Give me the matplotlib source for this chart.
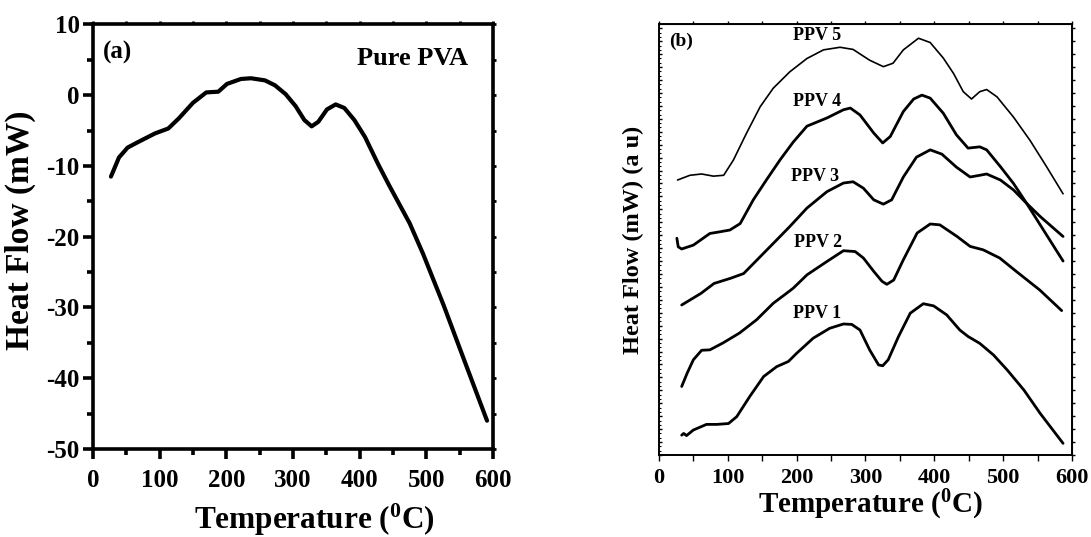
import matplotlib
matplotlib.use('Agg')
import matplotlib.pyplot as plt
from matplotlib.ticker import MultipleLocator

plt.rcParams['font.family'] = ['Liberation Serif', 'DejaVu Serif']
plt.rcParams['font.weight'] = 'bold'
plt.rcParams['axes.unicode_minus'] = False
plt.rcParams['mathtext.fontset'] = 'custom'
plt.rcParams['mathtext.rm'] = 'Liberation Serif:bold'
plt.rcParams['mathtext.bf'] = 'Liberation Serif:bold'
plt.rcParams['mathtext.default'] = 'rm'

# (a) pure PVA, heat flow in mW
pva_t = [27, 39, 52, 67, 93, 113, 129, 150, 170, 188, 201, 222, 237, 258, 273, 289,
         304, 317, 328, 338, 351, 364, 377, 392, 408, 428, 444, 475, 495, 526, 557, 591]
pva_hf = [-11.5, -8.8, -7.4, -6.65, -5.4, -4.7, -3.25, -1.07, 0.4, 0.5, 1.6, 2.3, 2.4, 2.1, 1.4, 0.15,
          -1.55, -3.5, -4.4, -3.75, -2.0, -1.3, -1.8, -3.5, -5.9, -9.8, -12.7, -18.1, -22.4, -29.7, -37.5, -46.0]

# (b) PPV samples, arbitrary units (0-100 across the axes)
t1 = [33, 36, 40, 50, 69, 84, 101, 113, 132, 152, 171, 188, 200, 224, 248, 268, 280, 292, 306, 319,
      325, 333, 348, 365, 384, 399, 418, 437, 449, 466, 486, 506, 530, 554, 587]
h1 = [4.6, 5.0, 4.5, 5.8, 7.1, 7.1, 7.3, 8.9, 13.6, 18.2, 20.5, 21.7, 23.6, 27.1, 29.4, 30.4, 30.3, 29.0, 24.4, 20.9,
      20.7, 22.1, 27.5, 32.9, 35.1, 34.6, 32.5, 29.0, 27.5, 25.9, 23.2, 19.7, 15.1, 9.6, 2.7]

t2 = [33, 41, 50, 62, 74, 93, 117, 142, 166, 186, 195, 215, 244, 268, 285, 297, 312, 324, 331, 341,
      355, 375, 394, 408, 433, 452, 471, 495, 519, 553, 585]
h2 = [15.9, 19.0, 22.1, 24.3, 24.4, 26.0, 28.3, 31.4, 35.2, 37.6, 38.7, 41.8, 44.9, 47.4, 47.2, 45.7, 42.6, 40.3, 39.6, 40.6,
      45.3, 51.5, 53.6, 53.4, 50.7, 48.4, 47.6, 45.7, 42.6, 38.3, 33.5]

t3 = [33, 61, 80, 104, 123, 147, 171, 190, 215, 244, 268, 282, 297, 312, 326, 338, 355, 374, 394, 411,
      432, 452, 466, 476, 496, 515, 534, 554, 587]
h3 = [34.8, 37.5, 39.8, 41.0, 42.1, 46.0, 49.9, 53.0, 57.3, 61.1, 63.1, 63.4, 61.9, 59.2, 58.2, 59.2, 64.5, 69.1, 70.8, 69.8,
      66.8, 64.5, 64.9, 65.2, 63.8, 61.5, 58.4, 55.3, 50.7]

t4 = [26, 28, 33, 50, 74, 89, 103, 118, 137, 156, 176, 195, 215, 244, 268, 278, 292, 312, 325, 336,
      355, 370, 382, 394, 413, 432, 449, 466, 476, 496, 515, 534, 587]
h4 = [50.3, 48.3, 47.8, 48.7, 51.4, 51.8, 52.2, 53.7, 59.2, 63.8, 68.5, 72.6, 76.3, 78.2, 80.1, 80.5, 78.9, 74.7, 72.4, 73.9,
      79.7, 82.6, 83.5, 82.8, 79.3, 74.3, 71.2, 71.5, 70.8, 66.9, 63.0, 58.4, 45.0]

t5 = [27, 45, 62, 79, 94, 108, 127, 147, 166, 190, 215, 239, 263, 282, 306, 326, 340, 355, 377, 394,
      413, 428, 442, 454, 466, 476, 491, 515, 539, 563, 587]
h5 = [63.8, 64.9, 65.2, 64.7, 64.9, 68.4, 74.6, 80.8, 85.1, 88.9, 92.0, 94.0, 94.6, 94.1, 91.6, 90.1, 90.9, 94.0, 96.7, 95.7,
      92.1, 88.5, 84.3, 82.6, 84.3, 84.8, 83.1, 78.4, 73.0, 66.9, 60.6]

ppv_names = ['PPV 1', 'PPV 2', 'PPV 3', 'PPV 4', 'PPV 5']
label_x = [229, 231, 227, 230, 230]
label_y = [32.9, 49.3, 64.6, 82.0, 97.4]

fig = plt.figure(figsize=(10.91, 5.37), dpi=100)

# ---- panel (a)
ax1 = fig.add_axes([0.0852, 0.1639, 0.3667, 0.7905])
ax1.plot(pva_t, pva_hf, color='black', lw=3.0, solid_capstyle='round', solid_joinstyle='round')
ax1.set_xlim(0, 600)
ax1.set_ylim(-50, 10)
ax1.xaxis.set_major_locator(MultipleLocator(100))
ax1.xaxis.set_minor_locator(MultipleLocator(50))
ax1.yaxis.set_major_locator(MultipleLocator(10))
ax1.yaxis.set_minor_locator(MultipleLocator(5))
for s in ax1.spines.values():
    s.set_linewidth(2.6)
ax1.tick_params(which='major', direction='out', length=7.5, width=2.6, labelsize=18)
ax1.tick_params(which='minor', direction='out', length=4, width=2.6)
ax1.tick_params(axis='x', which='major', pad=7)
ax1.tick_params(axis='y', which='major', pad=2)
for lab in ax1.get_xticklabels() + ax1.get_yticklabels():
    lab.set_fontweight('bold')
top1 = ax1.secondary_xaxis('top')
top1.xaxis.set_major_locator(MultipleLocator(50))
top1.tick_params(direction='out', length=2.5, width=2, labeltop=False)
right1 = ax1.secondary_yaxis('right')
right1.yaxis.set_major_locator(MultipleLocator(5))
right1.tick_params(direction='out', length=2.5, width=2, labelright=False)

ax1.set_xlabel('Temperature ($^0$C)', fontsize=22.5, fontweight='bold')
ax1.xaxis.set_label_coords(0.554, -0.125)
ax1.set_ylabel('Heat Flow (mW)', fontsize=24, fontweight='bold')
ax1.yaxis.set_label_coords(-0.142, 0.516)
ax1.text(15.5, 6.0, '(a)', fontsize=18, fontweight='bold', ha='left', va='center')
ax1.text(562, 5.2, 'Pure PVA', fontsize=19, fontweight='bold', ha='right', va='center')

# ---- panel (b)
ax2 = fig.add_axes([0.6040, 0.1527, 0.3786, 0.8026])
series = [(t1, h1, 2.0), (t2, h2, 2.0), (t3, h3, 2.0), (t4, h4, 2.0), (t5, h5, 1.2)]
for t, h, w in series:
    ax2.plot(t, h, color='black', lw=w, solid_capstyle='round', solid_joinstyle='round')
for name, x, y in zip(ppv_names, label_x, label_y):
    ax2.text(x, y, name, fontsize=13, fontweight='bold', ha='center', va='center')
ax2.text(15, 95.9, '(b)', fontsize=14, fontweight='bold', ha='left', va='center')

ax2.set_xlim(0, 600)
ax2.set_ylim(0, 100)
ax2.xaxis.set_major_locator(MultipleLocator(100))
ax2.xaxis.set_minor_locator(MultipleLocator(50))
ax2.yaxis.set_major_locator(MultipleLocator(3))
ax2.yaxis.set_minor_locator(MultipleLocator(1))
for s in ax2.spines.values():
    s.set_linewidth(1.4)
ax2.tick_params(axis='x', which='both', direction='out', length=4, width=1, labelsize=16, pad=5)
ax2.tick_params(axis='y', which='major', direction='in', length=2.5, width=1, labelleft=False)
ax2.tick_params(axis='y', which='minor', direction='in', length=1.5, width=0.8)
for lab in ax2.get_xticklabels():
    lab.set_fontweight('bold')
top2 = ax2.secondary_xaxis('top')
top2.xaxis.set_major_locator(MultipleLocator(50))
top2.tick_params(direction='out', length=2, width=1, labeltop=False)
right2 = ax2.secondary_yaxis('right')
right2.yaxis.set_major_locator(MultipleLocator(3))
right2.tick_params(direction='out', length=2.5, width=1, labelright=False)

ax2.set_xlabel('Temperature ($^0$C)', fontsize=21, fontweight='bold')
ax2.xaxis.set_label_coords(0.511, -0.077)
ax2.set_ylabel('Heat Flow (mW) (a u)', fontsize=17.5, fontweight='bold')
ax2.yaxis.set_label_coords(-0.035, 0.5)

fig.savefig('out.png', dpi=100)
